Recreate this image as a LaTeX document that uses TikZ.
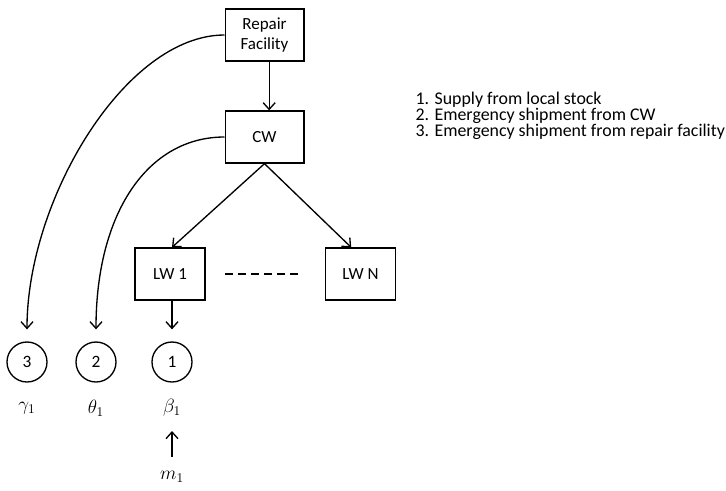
\documentclass[tikz,border=0pt]{standalone}
\usepackage{fontspec}
\setmainfont{Carlito}
\usetikzlibrary{positioning, arrows.meta}
\tikzset{
    facility/.style={draw, line width=1pt, minimum width=59pt, minimum height=39pt, align=center, inner sep=1pt, font=\fontsize{12.75}{15}\selectfont},
    option/.style={draw, circle, line width=1pt, minimum size=30pt, inner sep=0pt, font=\fontsize{13}{15}\selectfont},
    rate/.style={inner sep=0pt, minimum height=20pt, font=\fontsize{14.5}{16}\selectfont},
}

\begin{document}
\begin{tikzpicture}[>={Straight Barb[length=5pt, width=9pt]}, x=0.75pt, y=-0.75pt, line width=1pt]
\useasboundingbox (0,0) rectangle (726,490);
% warehouses
\node[facility] (rf) at (264.5,35) {Repair\\Facility};
\node[facility] (cw) at (264.5,137) {CW};
\node[facility, minimum width=52.5pt] (lw1) at (170,274) {LW 1};
\node[facility, minimum width=52.5pt] (lwn) at (360.5,274) {LW N};
% supply options
\node[option] (o3) at (27,362) {3};
\node[option] (o2) at (96,362) {2};
\node[option] (o1) at (172,362) {1};
\node[rate] (g1) at (27,408) {$\gamma_1$};
\node[rate] (t1) at (96,408) {$\theta_1$};
\node[rate] (b1) at (172,408) {$\beta_1$};
\node[rate] (m1) at (172,477) {$m_1$};
\coordinate (d1) at ([xshift=14.6pt]lw1.east);
\coordinate (d2) at ([xshift=-16.5pt]lwn.west);
\draw[->] ([xshift=3.5pt]rf.south) -- ([xshift=3.5pt]cw.north);
\draw[->] (cw.south) -- ([xshift=1.5pt]lw1.north);
\draw[->] (cw.south) -- ([xshift=-7pt]lwn.north);
\draw[dash pattern=on 6pt off 3.75pt] (d1) -- (d2);
\draw[->] ([xshift=1.5pt]lw1.south) -- ([yshift=9pt]o1.north);
\draw[->] (rf.west) .. controls +(-99,0) and +(0,-130) .. ([yshift=9pt]o3.north);
\draw[->] (cw.west) .. controls +(-77,0) and +(0,-116) .. ([yshift=9pt]o2.north);
\draw[->, shorten <=4.5pt, shorten >=6.75pt] (m1.north) -- (b1.south);
% legend
\node[anchor=west, align=left, inner sep=0pt, font=\fontsize{13.4}{12}\selectfont] (key) at (415,116) {1. Supply from local stock\\2. Emergency shipment from CW\\3. Emergency shipment from repair facility};
\end{tikzpicture}
\end{document}
